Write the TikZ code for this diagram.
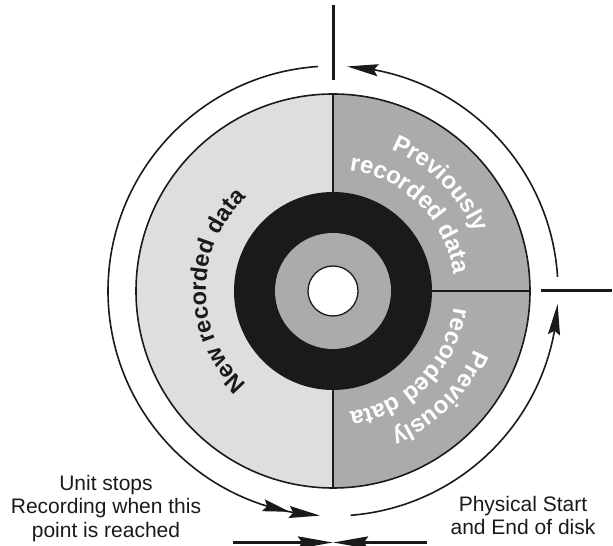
\documentclass[tikz,border=0pt]{standalone}
\usepackage{fontspec}
\setmainfont{Liberation Sans}
\usetikzlibrary{arrows.meta,bending,decorations.text}
\definecolor{lightg}{HTML}{DEDEDE}
\definecolor{midg}{HTML}{ABABAB}
\definecolor{ink}{HTML}{1A1A1A}
\begin{document}
\begin{tikzpicture}[x=1pt,y=1pt,line join=round,
  rim/.style={draw=ink,line width=1.6pt},
  divider/.style={draw=ink,line width=1.3pt},
  tickline/.style={draw=ink,line width=3pt},
  longtip/.style={-{Stealth[length=31pt,width=12pt,inset=4pt]}},
  doubletip/.style={-{Stealth[length=27pt,width=12pt,inset=4pt]Stealth[length=31pt,width=12pt,inset=4pt]}},
  lbl/.style={font=\fontsize{21}{23.5}\selectfont,align=center,inner sep=0pt,text=ink}]
\useasboundingbox (0,0) rectangle (613,546);
\coordinate (C) at (333,255);
\coordinate (dtop) at (333,452);
\coordinate (dbot) at (333,58);
\coordinate (dright) at (530,255);
% disk
\fill[lightg] (C) -- (dtop) arc[start angle=90,end angle=270,radius=197] -- cycle;
\fill[midg] (C) -- (dtop) arc[start angle=90,end angle=-90,radius=197] -- cycle;
\draw[divider] (dtop) -- (dbot);
\draw[divider] (C) -- (dright);
\draw[rim] (C) circle[radius=197];
\fill[ink] (C) circle[radius=99];
\fill[midg] (C) circle[radius=58];
\draw[divider,fill=white] (C) circle[radius=25];
% texts on disk
\path[decorate,decoration={text along path,text align=center,text color=ink,
  text={|\bfseries\fontsize{23.5}{23.5}\selectfont|New recorded data}}]
  (C) ++(270:127) arc[start angle=270,end angle=90,radius=127];
\path[decorate,decoration={text along path,text align=center,text color=white,
  text={|\bfseries\fontsize{24}{24}\selectfont|Previously}}]
  (C) ++(90:153) arc[start angle=90,end angle=0,radius=153];
\path[decorate,decoration={text along path,text align=center,text color=white,
  text={|\bfseries\fontsize{24}{24}\selectfont|recorded data}}]
  (C) ++(90:122) arc[start angle=90,end angle=0,radius=122];
\path[decorate,decoration={text along path,text align=center,text color=white,
  text={|\bfseries\fontsize{24}{24}\selectfont|Previously}}]
  (C) ++(0:153) arc[start angle=0,end angle=-90,radius=153];
\path[decorate,decoration={text along path,text align=center,text color=white,
  text={|\bfseries\fontsize{24}{24}\selectfont|recorded data}}]
  (C) ++(0:122) arc[start angle=0,end angle=-90,radius=122];
% outer arcs
\draw[rim,doubletip] (C) ++(93.8:225) arc[start angle=93.8,end angle=266.7,radius=225];
\draw[rim,longtip] (C) ++(-85.5:225) arc[start angle=-85.5,end angle=-3.3,radius=225];
\draw[rim,longtip] (C) ++(3.6:225) arc[start angle=3.6,end angle=86.4,radius=225];
% ticks
\coordinate (topA) at (333,541);
\coordinate (topB) at (333,466);
\coordinate (rA) at (541,255);
\coordinate (rB) at (612,255);
\coordinate (bL) at (233,3.5);
\coordinate (bM) at (333,3.5);
\coordinate (bR) at (427,3.5);
\draw[tickline] (topA) -- (topB);
\draw[tickline] (rA) -- (rB);
\draw[tickline,-{Stealth[length=35pt,width=12pt,inset=4pt]}] (bL) -- (bM);
\draw[tickline,-{Stealth[length=35pt,width=12pt,inset=4pt]}] (bR) -- (bM);
% labels (base anchor = baseline of the last line)
\node[lbl,anchor=base] (unit) at (106,9) {Unit stops\\Recording when this\\point is reached};
\node[lbl,anchor=base] (phys) at (523,11) {Physical Start\\and End of disk};
\end{tikzpicture}
\end{document}
